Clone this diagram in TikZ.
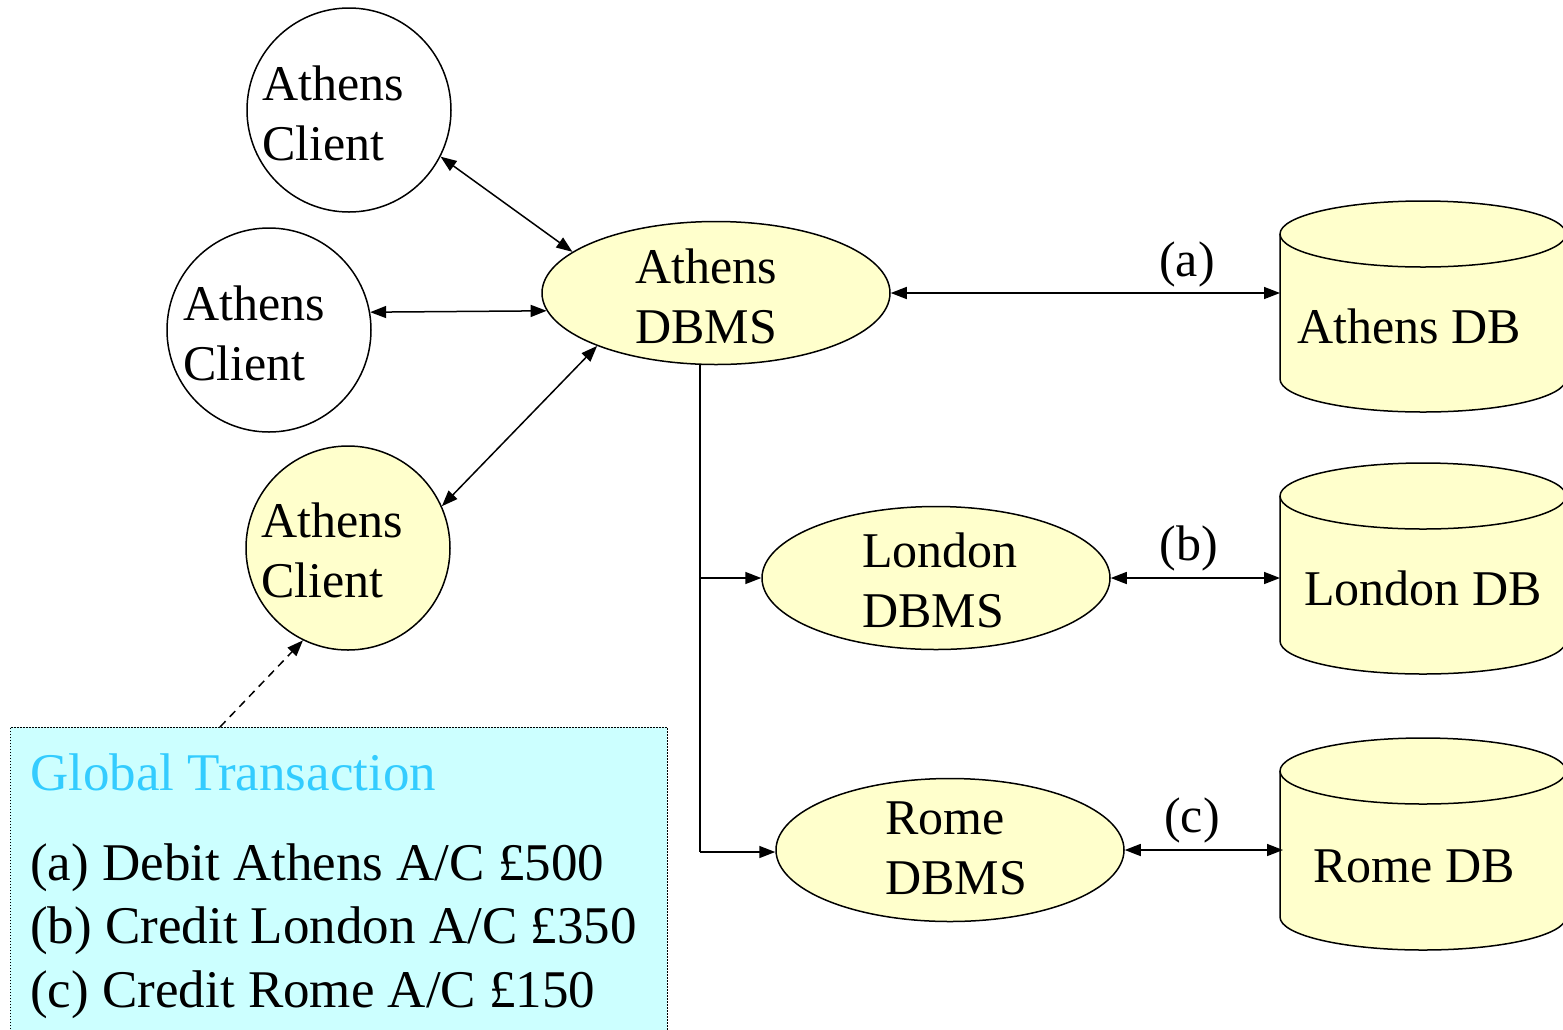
\documentclass[tikz,border=0pt]{standalone}
\usepackage{fontspec}
\setmainfont{Liberation Serif}
\usetikzlibrary{arrows.meta,shapes.geometric}
\definecolor{dbyellow}{HTML}{FFFFCC}
\definecolor{notecyan}{HTML}{CCFFFF}
\definecolor{titleblue}{HTML}{33CCFF}

% database cylinder: #1 name, #2 top-ellipse centre y, #3 bottom-ellipse centre y
\newcommand\dbcylinder[3]{%
  \fill[dbyellow] (1280,#2) -- (1280,#3) arc[start angle=180,end angle=0,x radius=143,y radius=33]
    -- (1566,#2) arc[start angle=0,end angle=-180,x radius=143,y radius=33] -- cycle;
  \draw[line width=1.5pt] (1280,#2) -- (1280,#3) arc[start angle=180,end angle=0,x radius=143,y radius=33]
    -- (1566,#2);
  \draw[line width=1.5pt] (1423,#2) ellipse[x radius=143,y radius=33];
  \coordinate (#1) at (1280,{(#2+#3)/2});
}

\begin{document}
\begin{tikzpicture}[x=1pt,y=-1pt,
  every node/.style={font=\fontsize{50}{60}\selectfont},
  client/.style={circle, draw, line width=1.5pt, minimum size=204pt, inner sep=0pt},
  dbms/.style={ellipse, draw, fill=dbyellow, line width=1.5pt,
    minimum width=348pt, minimum height=143pt, inner sep=0pt},
  txt/.style={align=left, inner sep=0pt, anchor=west},
  notetxt/.style={inner sep=0pt, anchor=base west, font=\fontsize{53}{60}\selectfont},
  tip/.style={line width=1.5pt, -{Triangle[length=16pt,width=12pt]}},
  link/.style={line width=1.5pt, {Triangle[length=16pt,width=12pt]}-{Triangle[length=16pt,width=12pt]}}]

\useasboundingbox (0,0) rectangle (1563,1029);

% clients
\node[client] (ac1) at (349,110) {};
\node[client] (ac2) at (269,330) {};
\node[client, fill=dbyellow] (ac3) at (348,548) {};
\node[txt] (ac1t) at (262,113) {Athens\\Client};
\node[txt] (ac2t) at (183,333) {Athens\\Client};
\node[txt] (ac3t) at (261,550) {Athens\\Client};

% DBMS sites
\node[dbms] (adbms) at (716,293) {};
\node[dbms] (ldbms) at (936,578) {};
\node[dbms] (rdbms) at (950,850) {};
\node[txt] (adbmst) at (635,296) {Athens\\DBMS};
\node[txt] (ldbmst) at (862,580) {London\\DBMS};
\node[txt] (rdbmst) at (885,848) {Rome\\DBMS};

% databases
\dbcylinder{adb}{234}{379}
\dbcylinder{ldb}{496}{641}
\dbcylinder{rdb}{771}{917}
\coordinate (adbL) at (1280,293);
\coordinate (ldbL) at (1280,578);
\coordinate (rdbL) at (1283,850);
\node[inner sep=0pt, anchor=base west] (adbt) at (1297,343) {Athens DB};
\node[inner sep=0pt, anchor=base west] (ldbt) at (1304,605) {London DB};
\node[inner sep=0pt, anchor=base west] (rdbt) at (1313,882) {Rome DB};

% client links
\draw[link] (ac1.-27.5) -- (adbms.164);
\draw[link] (ac2.10.2) -- (adbms.186.5);
\draw[link] (ac3.24.8) -- (adbms.204.6);

% local sub-transactions
\draw[link] (adbms.east) -- (adbL);
\draw[link] (ldbms.east) -- (ldbL);
\draw[link] (rdbms.east) -- (rdbL);
\node[inner sep=0pt] (la) at (1187,264) {(a)};
\node[inner sep=0pt] (lb) at (1189,548) {(b)};
\node[inner sep=0pt] (lc) at (1192,820) {(c)};

% distribution from the coordinating DBMS
\coordinate (trunk) at (700,852);
\draw[line width=1.5pt] (adbms.south -| trunk) -- (trunk);
\draw[tip] (trunk |- ldbms.west) -- (ldbms.west);
\draw[tip] (trunk) -- (trunk -| rdbms.west);

% global transaction note
\fill[notecyan] (10,727) rectangle (667,1035);
\draw[line width=1pt, dash pattern=on 1.5pt off 1.5pt] (10,1035) -- (10,727) -- (667,727) -- (667,1035);
\coordinate (noteTop) at (220,727);
\node[notetxt, text=titleblue] (gt) at (30,790) {Global Transaction};
\node[notetxt] (ta) at (30,880) {(a) Debit Athens A/C £500};
\node[notetxt] (tb) at (30,943) {(b) Credit London A/C £350};
\node[notetxt] (tc) at (30,1007) {(c) Credit Rome A/C £150};
\draw[tip, dash pattern=on 8pt off 6pt] (noteTop) -- (ac3.-116);

\end{tikzpicture}
\end{document}
